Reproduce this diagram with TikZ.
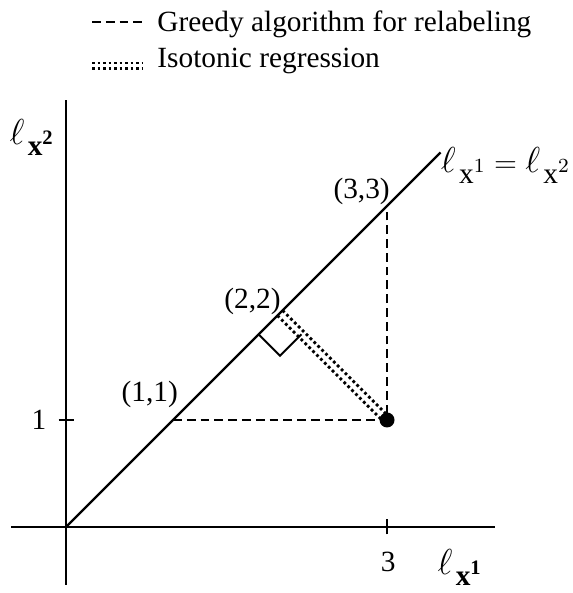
\documentclass[tikz,border=0pt]{standalone}
\usepackage{amsmath,amssymb}
\usepackage{fontspec}
\setmainfont{Liberation Serif}
\usetikzlibrary{calc}
\newcommand{\lsub}[1]{\hbox{\fontsize{14}{15}\selectfont$\ell$}\mkern2mu\lower4.5pt\hbox{$#1$}}

\begin{document}
\begin{tikzpicture}[x=1.5cm,y=1.5cm,font=\fontsize{11.7}{14}\selectfont,
  axis/.style={line width=1pt},
  greedy/.style={line width=0.85pt,dash pattern=on 3.5pt off 2pt},
  iso/.style={line width=1.1pt,dash pattern=on 1.1pt off 1.1pt},
  ptlab/.style={anchor=south east,inner sep=0pt}]
  \useasboundingbox (-0.617,-0.617) rectangle (4.729,4.925);
  \coordinate (O) at (0,0);
  \coordinate (xl) at (-0.51,0); \coordinate (xr) at (4.01,0);
  \coordinate (yb) at (0,-0.54); \coordinate (yt) at (0,3.99);
  \coordinate (D) at (3.5,3.5);
  \coordinate (T3) at (3,0); \coordinate (T1) at (0,1);
  \coordinate (P11) at (1,1); \coordinate (P22) at (2,2);
  \coordinate (P33) at (3,3); \coordinate (P31) at (3,1);
  % axes, ticks and the diagonal
  \draw[axis] (xl) -- (xr);
  \draw[axis] (yb) -- (yt);
  \draw[axis] (T3) ++(0,-0.07) -- ++(0,0.14);
  \draw[axis] (T1) ++(-0.07,0) -- ++(0.14,0);
  \draw[line width=0.85pt] (O) -- (D);
  \node (n3) at (3.01,-0.33) {3};
  \node[anchor=east,inner sep=0pt] (n1) at (-0.18,1) {1};
  \node (xlab) at (3.68,-0.38) {$\lsub{\mathbf{x}^{\mathbf{1}}}$};
  \node (ylab) at (-0.32,3.64) {$\lsub{\mathbf{x}^{\mathbf{2}}}$};
  \node[anchor=east,inner sep=0pt] (dlab) at (4.715,3.38)
    {$\lsub{\mathrm{x}^{1}} = \lsub{\mathrm{x}^{2}}$};
  % relabeling paths
  \draw[greedy] (P11) -- (P31) -- (P33);
  \draw[iso] ($(P22)+(0.024,0.024)$) -- ($(P31)+(0.024,0.024)$);
  \draw[iso] ($(P22)-(0.024,0.024)$) -- ($(P31)-(0.024,0.024)$);
  \draw[line width=0.8pt] (1.8,1.8) -- (2,1.6) -- (2.2,1.8);
  \fill (P31) circle (0.07);
  \node[ptlab] (l11) at ($(P11)+(0.05,0.11)$) {(1,1)};
  \node[ptlab] (l22) at ($(P22)+(0.01,-0.02)$) {(2,2)};
  \node[ptlab] (l33) at ($(P33)+(0.03,0.01)$) {(3,3)};
  % legend
  \coordinate (g1) at (0.243,4.72); \coordinate (g2) at (0.72,4.72);
  \coordinate (i1) at (0.243,4.335); \coordinate (i2) at (0.72,4.335);
  \coordinate (i3) at (0.243,4.285); \coordinate (i4) at (0.72,4.285);
  \draw[greedy] (g1) -- (g2);
  \draw[iso] (i1) -- (i2);
  \draw[iso] (i3) -- (i4);
  \node[anchor=base west,inner sep=0pt] (gtxt) at (0.85,4.635) {Greedy algorithm for relabeling};
  \node[anchor=base west,inner sep=0pt] (itxt) at (0.85,4.29) {Isotonic regression};
\end{tikzpicture}
\end{document}
